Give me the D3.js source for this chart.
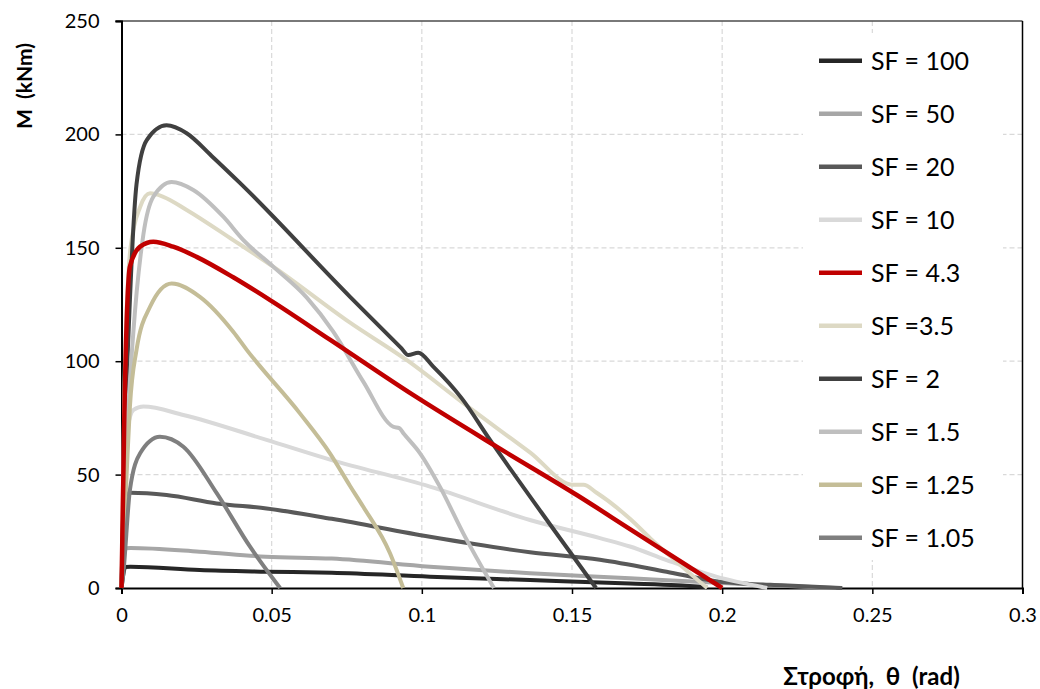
<!DOCTYPE html>
<html>
<head>
<meta charset="utf-8">
<script src="https://cdn.jsdelivr.net/npm/d3@7"></script>
<style>
  html, body { margin: 0; padding: 0; background: #fff; }
  svg { display: block; }
  text { white-space: pre; }
</style>
</head>
<body>
<svg id="chart" width="1040" height="689"></svg>
<script>
// Moment–rotation curves, one series per scale factor SF.
// Each point is [θ (rad), M (kNm)].
const sf100 = [[0,0],[0.0013,9.3],[0.003,9.4],[0.026,7.9],[0.048,7.2],[0.07,6.7],[0.1027,5],[0.136,3.5],[0.1693,2],[0.185,1.2],[0.195,0.3]];
const sf50  = [[0,0],[0.0013,17.5],[0.003,17.6],[0.026,16],[0.048,13.8],[0.07,13],[0.1027,9.4],[0.136,6.5],[0.1693,4.3],[0.2,2.2],[0.22,1],[0.238,0]];
const sf20  = [[0,0],[0.0015,41],[0.003,42],[0.015,41],[0.0317,37.3],[0.0483,35.1],[0.07,30.5],[0.1027,22.6],[0.136,15.8],[0.1593,12.5],[0.1815,7.2],[0.198,3],[0.209,1.8],[0.22,1.2],[0.24,0]];
const sf10  = [[0,0],[0.002,70],[0.004,78.5],[0.0073,80],[0.0206,76.3],[0.0483,65.3],[0.07,56.4],[0.1027,44.7],[0.136,30],[0.1593,22],[0.1693,18.3],[0.1815,12.3],[0.198,5],[0.215,0]];
const sf4_3 = [[0,0],[0.001,80],[0.0028,141.7],[0.0062,150.5],[0.0106,152.7],[0.0172,150.5],[0.025,146],[0.0372,137],[0.05,126.5],[0.0694,109.5],[0.0972,85],[0.1249,62.3],[0.1516,41],[0.1693,26],[0.2,0]];
const sf3_5 = [[0,0],[0.001,90],[0.003,150],[0.0062,168],[0.0095,174],[0.0139,172.5],[0.0217,166.7],[0.0372,153.4],[0.0505,141.7],[0.0761,117],[0.0955,100],[0.1138,81.5],[0.125,70.5],[0.136,59.8],[0.1504,45.5],[0.1538,45.5],[0.1582,42],[0.1693,30.5],[0.176,22],[0.195,0]];
const sf2   = [[0,0],[0.001,60],[0.0028,127],[0.005,178],[0.0084,197.5],[0.015,204],[0.0217,200.5],[0.03,190.5],[0.0395,178.5],[0.0761,128.4],[0.093,106],[0.0955,102.7],[0.0988,103.7],[0.1038,97.6],[0.1133,83.6],[0.1227,65.3],[0.1427,28],[0.158,0]];
const sf1_5 = [[0,0],[0.0015,60],[0.0039,112],[0.0073,156],[0.0106,172.5],[0.0167,179],[0.0239,175.5],[0.0339,163.7],[0.0406,153.4],[0.0505,141.7],[0.0617,128],[0.0705,113],[0.0805,91],[0.0905,71.1],[0.0925,70.5],[0.094,68],[0.0994,59.4],[0.106,44.7],[0.1138,24.1],[0.124,0]];
const sf1_25 = [[0,0],[0.0017,50],[0.0028,80],[0.005,105],[0.0095,124],[0.0167,134.3],[0.0261,128.4],[0.0372,113],[0.0417,105],[0.0594,77],[0.0694,59.4],[0.0761,45],[0.0805,35.8],[0.0894,15.3],[0.0938,0]];
const sf1_05 = [[0,0],[0.0006,6.5],[0.0028,43.2],[0.0062,59.4],[0.0128,66.7],[0.0206,62.3],[0.0317,41.8],[0.0428,18.2],[0.0528,0]];

// Legend order, labels and colours
const seriesLabels = ["SF = 100", "SF = 50", "SF = 20", "SF = 10", "SF = 4.3", "SF =3.5", "SF = 2", "SF = 1.5", "SF = 1.25", "SF = 1.05"];
const seriesData   = [sf100, sf50, sf20, sf10, sf4_3, sf3_5, sf2, sf1_5, sf1_25, sf1_05];
const seriesColors = ["#262626", "#a6a6a6", "#595959", "#d9d9d9", "#c00000", "#ddd9c4", "#404040", "#bfbfbf", "#c4bd97", "#7f7f7f"];

const xTicks = [0, 0.05, 0.1, 0.15, 0.2, 0.25, 0.3];
const yTicks = [0, 50, 100, 150, 200, 250];

const svg = d3.select("#chart");
const plot = { left: 121.5, right: 1022.5, top: 21, bottom: 588 };

const x = d3.scaleLinear().domain([0, 0.3]).range([plot.left, plot.right]);
const y = d3.scaleLinear().domain([0, 250]).range([plot.bottom, plot.top]);

const labelFont = "Lato, 'Open Sans', sans-serif";

// Dashed grid
const grid = svg.append("g").attr("class", "grid");
grid.selectAll("line.h").data(yTicks.filter(d => d > 0 && d < 250)).enter().append("line")
  .attr("x1", plot.left).attr("x2", plot.right)
  .attr("y1", d => y(d)).attr("y2", d => y(d))
  .attr("stroke", "#d9d9d9").attr("stroke-width", 1.2).attr("stroke-dasharray", "5,3");
grid.selectAll("line.v").data(xTicks.filter(d => d > 0 && d < 0.3)).enter().append("line")
  .attr("x1", d => x(d)).attr("x2", d => x(d))
  .attr("y1", plot.top).attr("y2", plot.bottom)
  .attr("stroke", "#d9d9d9").attr("stroke-width", 1.2).attr("stroke-dasharray", "5,3");

// Frame: top and right edges
svg.append("line").attr("x1", plot.left - 6).attr("x2", plot.right)
  .attr("y1", plot.top).attr("y2", plot.top).attr("stroke", "#4d4d4d").attr("stroke-width", 1.5);
svg.append("line").attr("x1", plot.right).attr("x2", plot.right)
  .attr("y1", plot.top).attr("y2", plot.bottom).attr("stroke", "#000").attr("stroke-width", 1.5);

// Legend background hides the grid behind it
const legendBox = { x0: 803, x1: 1003, y0: 33, y1: 560 };
svg.append("rect").attr("x", legendBox.x0).attr("y", legendBox.y0)
  .attr("width", legendBox.x1 - legendBox.x0).attr("height", legendBox.y1 - legendBox.y0)
  .attr("fill", "#fff");

// Axes
const xAxis = d3.axisBottom(x).tickValues(xTicks).tickSize(6).tickPadding(14)
  .tickFormat(d => d3.format("")(+d.toFixed(2)));
const yAxis = d3.axisLeft(y).tickValues(yTicks).tickSize(6).tickPadding(16);

const gx = svg.append("g").attr("transform", `translate(0,${plot.bottom})`).call(xAxis);
const gy = svg.append("g").attr("transform", `translate(${plot.left},0)`).call(yAxis);
[gx, gy].forEach(g => {
  g.select(".domain").attr("stroke", "#000").attr("stroke-width", 2);
  g.selectAll(".tick line").attr("stroke", "#000").attr("stroke-width", 1.5);
  g.selectAll("text").attr("fill", "#000").attr("font-family", labelFont);
});
gy.selectAll("text").attr("font-size", 20);
gx.selectAll("text").attr("font-size", 20).attr("dy", "0.71em");

// Curves (red series drawn last so it stays on top)
const line = d3.line().x(d => x(d[0])).y(d => y(d[1])).curve(d3.curveMonotoneX);
const order = [0, 1, 2, 3, 5, 6, 7, 8, 9, 4];
const curves = svg.append("g").attr("class", "curves");
order.forEach(i => {
  curves.append("path").datum(seriesData[i])
    .attr("d", line)
    .attr("fill", "none")
    .attr("stroke", seriesColors[i])
    .attr("stroke-width", i === 4 ? 4.5 : 4)
    .attr("stroke-linejoin", "round").attr("stroke-linecap", "butt");
});

// Legend entries
const ly = d3.scalePoint().domain(seriesLabels).range([60.7, 537.7]);
const legend = svg.append("g").attr("class", "legend");
seriesLabels.forEach((lab, i) => {
  legend.append("line")
    .attr("x1", 819).attr("x2", 862)
    .attr("y1", ly(lab)).attr("y2", ly(lab))
    .attr("stroke", seriesColors[i]).attr("stroke-width", 4.5);
  legend.append("text")
    .attr("x", 871).attr("y", ly(lab)).attr("dy", "0.36em")
    .attr("font-family", labelFont).attr("font-size", 25)
    .attr("fill", "#000").text(lab);
});

// Axis titles
svg.append("text")
  .attr("transform", `translate(32,86) rotate(-90)`)
  .attr("text-anchor", "middle")
  .attr("font-family", labelFont).attr("font-weight", "bold").attr("font-size", 21)
  .attr("fill", "#000").text("M  (kNm)");
svg.append("text")
  .attr("x", 871.5).attr("y", 685)
  .attr("text-anchor", "middle")
  .attr("font-family", labelFont).attr("font-weight", "bold").attr("font-size", 24)
  .attr("fill", "#000").text("Στροφή,  θ  (rad)");
</script>
</body>
</html>
